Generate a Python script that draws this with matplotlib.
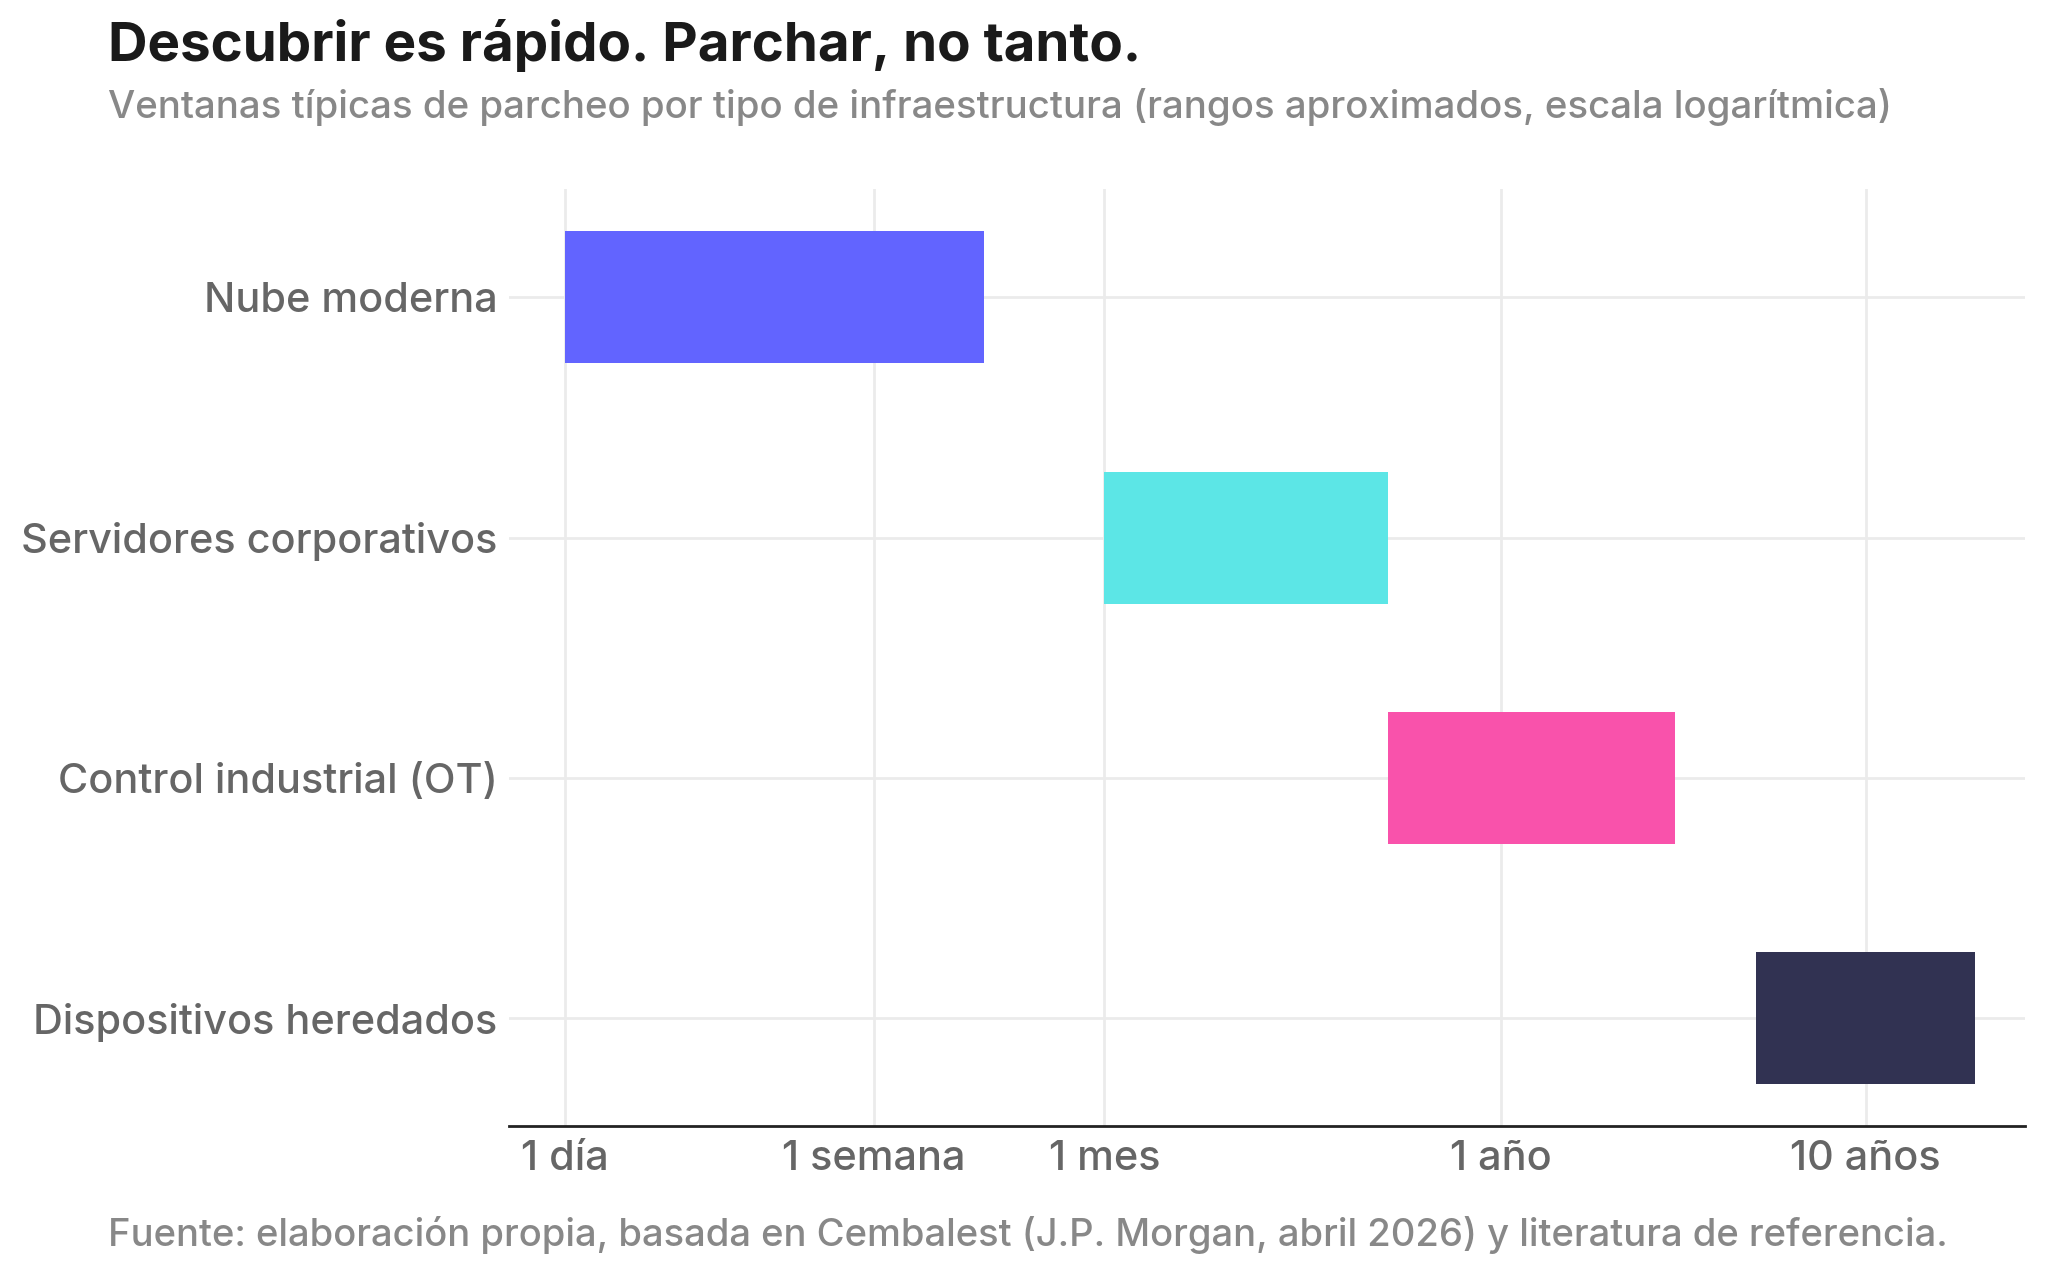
import numpy as np
import matplotlib
matplotlib.use("Agg")
import matplotlib.pyplot as plt

# datos (días, escala log)
categories = ["Nube moderna", "Servidores corporativos",
              "Control industrial (OT)", "Dispositivos heredados"]
start_days = [1, 30, 180, 1825]
end_days = [14, 180, 1095, 7300]
colors = ["#6264FF", "#5CE6E6", "#F952AB", "#313252"]
tick_days = [1, 7, 30, 365, 3650]
tick_labels = ["1 día", "1 semana", "1 mes", "1 año", "10 años"]

plt.rcParams["font.family"] = ["Inter", "DejaVu Sans"]

fig = plt.figure(figsize=(20.45, 12.69), dpi=100)
ax = fig.add_axes([0.2487, 0.1125, 0.7417, 0.7384])

y = np.arange(len(categories))
widths = [e - s for s, e in zip(start_days, end_days)]
ax.barh(y, widths, left=start_days, height=0.55, color=colors, zorder=3)

ax.set_xscale("log")
ax.set_xlim(0.7, 10000)
ax.set_ylim(len(categories) - 0.55, -0.45)
ax.set_xticks(tick_days)
ax.set_xticklabels(tick_labels)
ax.xaxis.set_minor_locator(matplotlib.ticker.NullLocator())
ax.set_yticks(y)
ax.set_yticklabels(categories)
for lab in ax.get_xticklabels() + ax.get_yticklabels():
    lab.set_fontweight("medium")

ax.grid(True, color="#ebebeb", linewidth=2, zorder=0)
for s in ["top", "right", "left"]:
    ax.spines[s].set_visible(False)
ax.spines["bottom"].set_color("#222222")
ax.spines["bottom"].set_linewidth(2)
ax.tick_params(axis="both", length=0, labelsize=29.8, labelcolor="#666666")
ax.tick_params(axis="x", pad=10)
ax.tick_params(axis="y", pad=8)

fig.text(0.053, 0.952, "Descubrir es rápido. Parchar, no tanto.",
         fontsize=39.4, fontweight="bold", color="#1a1a1a")
fig.text(0.053, 0.907,
         "Ventanas típicas de parcheo por tipo de infraestructura (rangos aproximados, escala logarítmica)",
         fontsize=27.7, fontweight="medium", color="#888888")
fig.text(0.053, 0.018,
         "Fuente: elaboración propia, basada en Cembalest (J.P. Morgan, abril 2026) y literatura de referencia.",
         fontsize=27.5, fontweight="medium", color="#888888")

fig.savefig("out.png", dpi=100)
